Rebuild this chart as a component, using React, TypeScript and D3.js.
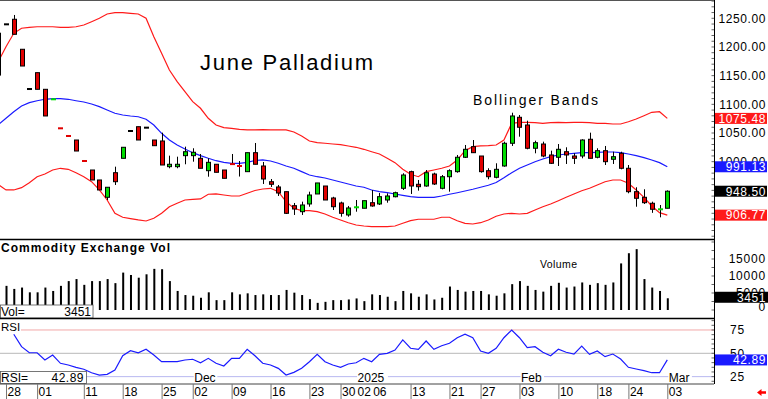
import * as d3 from 'd3';
import { useEffect } from 'react';

// one entry per trading day; the first bar is the one cut off at the left edge
const opens = [1224, 1239.5, 1248.3, 1196.0, 1126.7, 1155.2, 1126.2, 1108.3, 1058.7, 1045.3, 1037.8, 1001.7, 985.5, 968.1, 937.9, 980.8, 1005.9, 1053.5, 1061.0, 1059.3, 1037.8, 1036.1, 991.3, 991.3, 1010.5, 1010.5, 1005.9, 984.3, 995.5, 985.5, 996.3, 993.0, 982.6, 1015.7, 992.5, 965.1, 955.9, 947.7, 923.3, 912.8, 926.3, 943.7, 957.6, 936.7, 928.0, 907.1, 920.0, 918.8, 928.5, 926.3, 933.2, 938.9, 953.6, 982.6, 960.6, 957.6, 978.5, 953.6, 973.8, 982.6, 1007.7, 1026.2, 1009.9, 984.3, 972.8, 992.5, 1032.1, 1077.4, 1064.0, 1023.4, 1030.8, 1011.7, 1007.7, 1017.4, 1009.9, 1009.9, 1039.1, 1007.7, 1019.2, 1004.2, 1014.6, 988.5, 947.7, 937.9, 927.5, 916.5, 918.8];
const highs = [1224, 1239.5, 1255.8, 1196.0, 1126.7, 1155.2, 1126.2, 1109.3, 1058.7, 1045.3, 1037.8, 1001.7, 985.5, 968.1, 955.4, 991.3, 1025.1, 1053.5, 1061.0, 1059.3, 1037.8, 1050.6, 1010.5, 1008.7, 1026.2, 1023.4, 1013.4, 1005.9, 995.5, 985.5, 1013.4, 1001.2, 1015.7, 1032.6, 999.5, 969.8, 959.4, 947.7, 928.0, 930.3, 947.7, 962.9, 957.6, 938.8, 930.3, 922.8, 933.2, 932.0, 950.7, 945.4, 944.8, 947.7, 979.8, 984.3, 968.1, 985.5, 980.8, 976.8, 986.7, 1011.7, 1029.1, 1037.8, 1009.9, 988.5, 997.2, 1034.9, 1085.4, 1081.4, 1071.5, 1036.6, 1034.9, 1019.2, 1030.8, 1025.1, 1014.6, 1039.1, 1050.6, 1023.4, 1027.4, 1017.4, 1017.4, 994.2, 955.4, 951.9, 930.3, 924.5, 950.0];
const lows = [1151, 1239.5, 1222.1, 1166.8, 1126.7, 1126.2, 1079.7, 1108.3, 1057.7, 1044.3, 1018.6, 1000.7, 968.1, 950.7, 933.2, 959.4, 1005.9, 1053.5, 1037.8, 1059.3, 1027.9, 994.2, 988.5, 988.5, 995.5, 1000.0, 988.5, 973.8, 981.5, 971.0, 995.3, 974.1, 982.6, 995.5, 961.1, 955.9, 940.2, 908.8, 907.1, 907.1, 921.5, 943.7, 933.2, 915.8, 904.1, 904.1, 912.8, 918.8, 921.5, 924.5, 928.5, 937.9, 950.7, 943.7, 949.5, 956.4, 959.4, 951.8, 947.7, 980.8, 1006.5, 1015.2, 980.8, 969.3, 971.0, 991.3, 1027.4, 1043.6, 1021.6, 1014.6, 1007.7, 996.0, 992.5, 996.0, 996.0, 1005.9, 1005.9, 1005.9, 994.2, 996.0, 986.7, 944.9, 921.5, 926.3, 910.8, 903.0, 918.8];
const closes = [1151, 1239.5, 1222.1, 1166.8, 1126.7, 1126.2, 1079.7, 1109.3, 1057.7, 1044.3, 1018.6, 1000.7, 968.1, 950.7, 955.4, 965.1, 1025.1, 1053.5, 1037.8, 1059.3, 1027.9, 994.2, 995.5, 995.5, 1017.4, 1016.4, 988.5, 998.9, 981.5, 971.0, 995.3, 992.0, 1015.7, 995.5, 969.8, 960.6, 945.4, 910.0, 917.5, 924.5, 941.9, 962.9, 933.2, 921.5, 910.0, 919.3, 921.0, 932.0, 922.8, 939.0, 940.2, 945.9, 976.8, 957.6, 956.4, 980.8, 961.1, 973.8, 984.3, 1007.7, 1021.6, 1015.7, 982.6, 973.8, 986.7, 1032.1, 1079.7, 1060.0, 1023.4, 1033.1, 1009.9, 997.2, 1021.6, 1011.7, 1005.9, 1037.8, 1005.9, 1019.2, 1000.0, 1008.7, 988.5, 947.7, 936.2, 928.5, 917.0, 917.5, 948.5];

const bbUpper = [1174.3, 1200.5, 1223.8, 1232.6, 1234.3, 1235.3, 1235.3, 1235.3, 1234.3, 1234.3, 1235.3, 1238.3, 1244.1, 1250.0, 1257.5, 1259.8, 1259.8, 1258.7, 1257.5, 1250.0, 1217.9, 1189.0, 1159.9, 1139.5, 1122.0, 1104.6, 1093.1, 1075.7, 1064.0, 1059.3, 1058.2, 1056.5, 1055.3, 1055.3, 1055.8, 1055.3, 1055.3, 1055.3, 1051.8, 1044.8, 1036.1, 1033.1, 1032.1, 1030.8, 1029.6, 1027.4, 1025.1, 1021.6, 1017.4, 1013.4, 1005.9, 998.3, 986.7, 978.0, 973.8, 982.6, 985.5, 988.5, 992.5, 1002.9, 1019.2, 1026.2, 1027.4, 1027.9, 1029.1, 1037.8, 1066.9, 1068.7, 1068.7, 1068.0, 1066.9, 1068.0, 1068.7, 1068.0, 1068.7, 1068.7, 1068.0, 1066.9, 1066.9, 1065.7, 1065.7, 1069.7, 1074.4, 1080.2, 1086.1, 1087.2, 1075.48];
const bbMiddle = [1064.3, 1075.7, 1087.2, 1097.1, 1102.9, 1106.3, 1108.8, 1109.8, 1109.8, 1108.8, 1106.3, 1104.1, 1100.6, 1095.9, 1090.1, 1084.4, 1081.4, 1079.7, 1078.4, 1073.9, 1064.0, 1049.5, 1037.8, 1029.1, 1022.1, 1015.7, 1010.5, 1005.9, 1001.7, 998.9, 997.2, 997.2, 998.9, 1002.1, 1003.0, 1001.2, 997.2, 992.5, 988.5, 982.6, 976.8, 973.8, 971.6, 968.1, 964.6, 961.1, 957.6, 955.4, 950.7, 947.7, 945.9, 943.7, 941.4, 939.0, 937.9, 937.9, 937.9, 940.2, 943.2, 945.9, 948.9, 951.9, 955.4, 958.9, 963.7, 971.9, 980.8, 988.5, 994.2, 999.9, 1004.7, 1008.7, 1011.7, 1013.4, 1014.6, 1015.7, 1015.7, 1016.4, 1016.9, 1016.9, 1015.7, 1013.4, 1010.5, 1007.0, 1003.0, 998.3, 991.13];
const bbLower = [960.0, 950.7, 950.7, 954.7, 963.4, 973.8, 978.5, 985.5, 988.5, 986.7, 980.8, 973.8, 965.1, 950.7, 933.2, 910.0, 903.1, 900.6, 898.4, 896.6, 901.3, 910.0, 921.5, 927.5, 933.2, 934.4, 935.0, 943.2, 943.7, 941.9, 940.2, 940.2, 944.9, 949.8, 952.4, 953.6, 947.7, 930.3, 918.8, 914.6, 914.6, 912.8, 908.8, 903.1, 898.4, 893.6, 889.6, 887.9, 886.7, 886.7, 886.7, 887.9, 892.6, 897.1, 899.6, 899.6, 899.6, 903.1, 903.1, 897.1, 892.6, 891.4, 893.6, 898.4, 904.8, 908.8, 910.0, 908.8, 910.0, 915.8, 921.5, 926.3, 932.0, 937.9, 943.7, 949.4, 953.6, 959.4, 965.1, 968.1, 968.1, 962.3, 950.7, 937.9, 922.8, 911.1, 906.77];

const volumes = [7000, 7100, 6200, 6600, 5200, 5200, 6600, 5600, 7100, 8500, 9100, 7400, 8500, 8500, 9100, 7900, 11000, 10300, 9500, 10500, 12100, 12000, 8500, 5600, 4400, 4200, 3600, 5200, 2900, 2900, 5200, 4600, 4900, 4400, 4600, 4400, 4400, 5900, 5100, 4400, 3200, 2100, 2400, 2900, 2900, 3100, 3400, 2600, 4600, 4400, 3900, 2600, 5600, 4900, 3900, 4600, 3100, 3600, 6900, 5900, 5400, 5600, 5600, 4600, 4200, 4900, 7600, 8500, 7100, 5900, 5400, 7100, 8000, 6600, 6900, 8100, 7400, 7900, 7400, 8100, 13700, 16700, 17900, 9100, 6600, 5600, 3451];

const rsi: (number | null)[] = [null, null, 70.4, 57.1, 50.6, 50.6, 42.8, 48.2, 39.3, 37.5, 35.0, 32.9, 29.2, 26.7, 27.5, 32.1, 47.4, 52.8, 50.6, 54.3, 48.2, 41.0, 41.0, 41.0, 42.8, 43.6, 39.9, 44.6, 39.3, 36.4, 44.6, 44.6, 54.3, 47.4, 39.3, 37.5, 33.9, 26.7, 29.6, 33.9, 41.0, 48.9, 41.0, 37.5, 35.0, 38.5, 39.9, 44.6, 41.0, 48.9, 50.0, 53.5, 64.3, 55.4, 54.3, 63.2, 54.3, 58.1, 60.7, 66.7, 70.4, 66.7, 52.5, 50.0, 55.4, 66.7, 75.0, 66.7, 56.0, 57.1, 51.1, 47.4, 54.3, 51.1, 49.2, 57.8, 48.9, 52.5, 46.4, 49.2, 43.9, 35.0, 33.2, 31.4, 29.2, 29.2, 42.89];

// x-axis labels: bar index + text
const dayTickIdx = [1, 5, 11, 16, 21, 25, 30, 35, 40, 44, 46, 48, 53, 58, 62, 67, 72, 77, 81, 86];
const dayTickLabels = ['28', '01', '11', '18', '25', '02', '09', '16', '23', '30', '02', '06', '13', '21', '27', '03', '10', '18', '24', '03'];
const monthIdx = [25, 46, 67, 86];
const monthLabels = ['Dec', '2025', 'Feb', 'Mar'];

const priceTicks = [1000, 1050, 1100, 1150, 1200, 1250];
const volTicks = [0, 5000, 10000, 15000];
const rsiTicks = [25, 50, 75];

const FONT = "'Liberation Sans', Arial, sans-serif";
const RED = '#ff1a1a';
const BLUE = '#1a1aff';
const AXIS_X = 714.5;

export default function App() {
  useEffect(() => {
    document.body.style.margin = '0';
  }, []);

  const n = opens.length;
  const x = d3.scaleLinear().domain([0, n - 1]).range([-1.78, 667.3]);
  const yP = d3.scaleLinear().domain([865.2, 1281.9]).range([239, 0]);
  const yV = d3.scaleLinear().domain([0, 20882]).range([310, 239]);
  const yR = d3.scaleLinear().domain([17.1, 87.3]).range([384, 318.5]);

  const bandLine = d3
    .line<number>()
    .x((_, i) => x(i))
    .y((d) => yP(d))
    .curve(d3.curveLinear);
  const rsiLine = d3
    .line<number | null>()
    .defined((d) => d !== null)
    .x((_, i) => x(i))
    .y((d) => yR(d as number));

  const last = n - 1;
  const priceBoxes = [
    { v: bbUpper[last], fill: RED },
    { v: bbMiddle[last], fill: BLUE },
    { v: closes[last], fill: '#000' },
    { v: bbLower[last], fill: RED },
  ];

  // candles
  const candles = opens.map((o, i) => {
    const c = closes[i];
    const cx = Math.round(x(i));
    const color = c > o ? '#00dd00' : c < o ? '#e00000' : '#000';
    const yTop = yP(Math.max(o, c));
    const yBot = yP(Math.min(o, c));
    const tiny = yBot - yTop < 2;
    return (
      <g key={i}>
        {highs[i] !== lows[i] && (
          <line x1={cx + 0.5} x2={cx + 0.5} y1={yP(highs[i])} y2={yP(lows[i])} stroke="#000" strokeWidth={1} />
        )}
        {tiny ? (
          <rect x={cx - 2} y={(yTop + yBot) / 2 - 1} width={5} height={2} fill={color} />
        ) : (
          <rect x={cx - 1.5} y={yTop} width={4} height={yBot - yTop} fill={color} stroke="#000" strokeWidth={1} />
        )}
      </g>
    );
  });

  const volBars = volumes.map((v, i) => (
    <rect key={i} x={x(i) - 0.5} y={yV(v)} width={2} height={yV(0) - yV(v)} fill="#000" />
  ));

  const priceMinor = d3.range(870, 1281, 10);
  const volMinor = d3.range(0, 20001, 2500);
  const rsiMinor = d3.range(20, 86, 5);

  return (
    <svg
      width={768}
      height={399}
      style={{ position: 'absolute', left: 0, top: 0, background: '#fff', fontFamily: FONT }}
    >
      <defs>
        <clipPath id="plot">
          <rect x={0} y={0} width={714} height={399} />
        </clipPath>
      </defs>
      <rect x={0} y={0} width={768} height={399} fill="#fff" />

      {/* main price panel */}
      <g clipPath="url(#plot)">
        <path d={bandLine(bbUpper) ?? ''} fill="none" stroke={RED} strokeWidth={1.2} />
        <path d={bandLine(bbLower) ?? ''} fill="none" stroke={RED} strokeWidth={1.2} />
        <path d={bandLine(bbMiddle) ?? ''} fill="none" stroke={BLUE} strokeWidth={1.2} />
        {candles}
      </g>
      <text x={200} y={69.5} fontSize={22} textLength={173} lengthAdjust="spacing" fill="#000">
        June Palladium
      </text>
      <text x={473} y={105} fontSize={14} textLength={125} lengthAdjust="spacing" fill="#000">
        Bollinger Bands
      </text>

      {/* volume panel */}
      <g clipPath="url(#plot)">{volBars}</g>
      <text x={1} y={251.8} fontSize={12} fontWeight="bold" textLength={169} lengthAdjust="spacing" fill="#000">
        Commodity Exchange Vol
      </text>
      <text x={540} y={267.5} fontSize={10.5} textLength={37} lengthAdjust="spacing" fill="#000">
        Volume
      </text>
      <rect x={0.5} y={305} width={92.5} height={13} fill="#fff" stroke="#555" strokeWidth={0.8} />
      <text x={1} y={315.5} fontSize={12} fill="#000">
        Vol=
      </text>
      <text x={91} y={315.5} fontSize={12} textAnchor="end" fill="#000">
        {volumes[last]}
      </text>

      {/* RSI panel */}
      <line x1={0} x2={714} y1={yR(75)} y2={yR(75)} stroke="#f2a8a8" strokeWidth={1} />
      <line x1={0} x2={714} y1={yR(50)} y2={yR(50)} stroke="#b8b8b8" strokeWidth={1} />
      <line x1={0} x2={714} y1={yR(25)} y2={yR(25)} stroke="#b8b8f0" strokeWidth={1} />
      <g clipPath="url(#plot)">
        <path d={rsiLine(rsi) ?? ''} fill="none" stroke={BLUE} strokeWidth={1.2} />
      </g>
      <rect x={0} y={320} width={21} height={13} fill="#fff" />
      <text x={1} y={331} fontSize={11.5} fill="#000">
        RSI
      </text>
      {monthIdx.map((idx, k) => (
        <g key={k}>
          <rect x={x(idx) + 1} y={372} width={monthLabels[k].length * 7.2 + 2} height={11} fill="#fff" />
          <text x={x(idx) + 1.5} y={382.3} fontSize={12} fill="#000">
            {monthLabels[k]}
          </text>
        </g>
      ))}
      <rect x={0.5} y={371.5} width={86} height={12} fill="#fff" stroke="#555" strokeWidth={0.8} />
      <text x={1} y={381.8} fontSize={12} fill="#000">
        RSI=
      </text>
      <text x={84} y={381.8} fontSize={12} textAnchor="end" letterSpacing={0.5} fill="#000">
        {rsi[last]}
      </text>

      {/* panel frames */}
      <line x1={0} x2={714} y1={0.5} y2={0.5} stroke="#555" strokeWidth={1} />
      <line x1={0} x2={714} y1={239.5} y2={239.5} stroke="#000" strokeWidth={1.5} />
      <line x1={0} x2={714} y1={318.5} y2={318.5} stroke="#000" strokeWidth={1.5} />
      <line x1={0} x2={714} y1={384} y2={384} stroke="#444" strokeWidth={1} />
      <line x1={AXIS_X} x2={AXIS_X} y1={0} y2={384} stroke="#000" strokeWidth={1} />

      {/* right axis ticks */}
      {priceMinor.map((v) => (
        <line key={`p${v}`} x1={711.5} x2={714} y1={yP(v)} y2={yP(v)} stroke="#666" strokeWidth={1} />
      ))}
      {volMinor.map((v) => (
        <line key={`v${v}`} x1={711.5} x2={714} y1={yV(v)} y2={yV(v)} stroke="#666" strokeWidth={1} />
      ))}
      {rsiMinor.map((v) => (
        <line key={`r${v}`} x1={711.5} x2={714} y1={yR(v)} y2={yR(v)} stroke="#666" strokeWidth={1} />
      ))}

      {/* right axis labels */}
      {priceTicks.map((v) => (
        <text key={v} x={766} y={yP(v)} dy="0.36em" fontSize={12} textAnchor="end" letterSpacing={0.6} fill="#000">
          {v.toFixed(2)}
        </text>
      ))}
      {priceBoxes.map((b, k) => (
        <g key={k}>
          <rect x={715} y={yP(b.v) - 5.5} width={52} height={11} fill={b.fill} />
          <text x={766} y={yP(b.v)} dy="0.36em" fontSize={12} textAnchor="end" letterSpacing={0.6} fill="#fff">
            {b.v.toFixed(2)}
          </text>
        </g>
      ))}
      {volTicks.map((v) => (
        <text
          key={v}
          x={766}
          y={Math.min(yV(v), 306.5)}
          dy="0.36em"
          fontSize={12}
          textAnchor="end"
          letterSpacing={0.8}
          fill="#000"
        >
          {v}
        </text>
      ))}
      <rect x={715} y={yV(volumes[last]) - 6.5} width={53} height={11} fill="#000" />
      <text x={766} y={yV(volumes[last]) - 1} dy="0.36em" fontSize={12} textAnchor="end" letterSpacing={0.6} fill="#fff">
        {volumes[last]}
      </text>
      {rsiTicks.map((v) => (
        <text key={v} x={730} y={yR(v)} dy="0.36em" fontSize={12} letterSpacing={0.8} fill="#000">
          {v}
        </text>
      ))}
      <rect x={715} y={yR(rsi[last] as number) - 5.5} width={52} height={11} fill={BLUE} />
      <text x={766} y={yR(rsi[last] as number)} dy="0.36em" fontSize={12} textAnchor="end" letterSpacing={0.6} fill="#fff">
        {(rsi[last] as number).toFixed(2)}
      </text>

      {/* date axis */}
      {dayTickIdx.map((idx, k) => {
        const crowded = k > 0 && idx - dayTickIdx[k - 1] < 3;
        return (
          <g key={k}>
            {!crowded && <line x1={x(idx) + 0.5} x2={x(idx) + 0.5} y1={384} y2={399} stroke="#777" strokeWidth={1} />}
            <text x={x(idx) + 1.5} y={395.8} fontSize={12} fill="#000">
              {dayTickLabels[k]}
            </text>
          </g>
        );
      })}
      <path d="M757,392.5 L761.5,389 L761.5,391.3 L766,391.3 L766,393.7 L761.5,393.7 L761.5,396 Z" fill="#ff0000" />
    </svg>
  );
}
